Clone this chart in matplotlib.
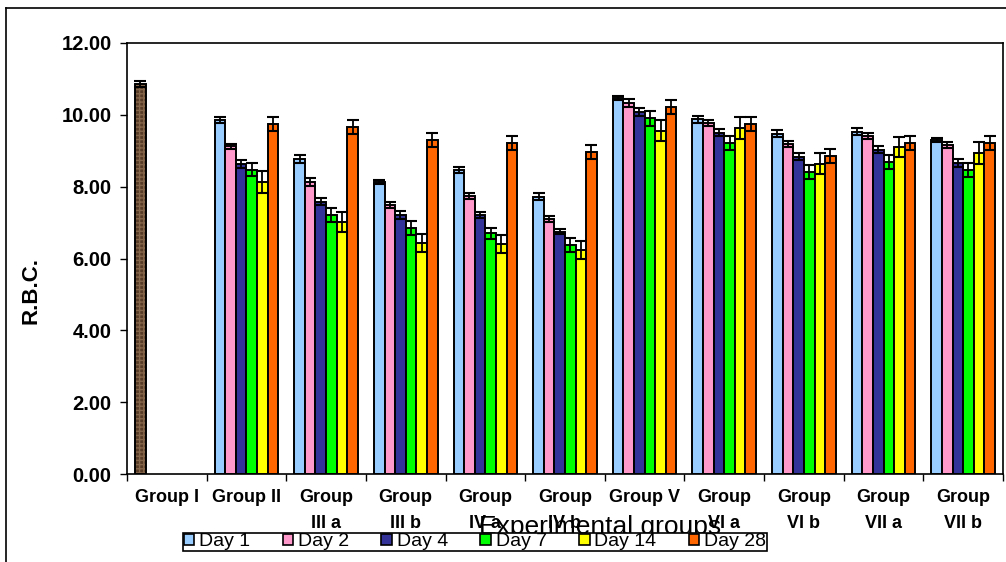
import numpy as np
import matplotlib
matplotlib.use('Agg')
import matplotlib.pyplot as plt
from matplotlib.patches import Patch
from matplotlib.lines import Line2D

plt.rcParams['font.family'] = ['Liberation Sans', 'DejaVu Sans']

groups = ['Group I', 'Group II', 'Group\nIII a', 'Group\nIII b', 'Group\nIV a',
          'Group\nIV b', 'Group V', 'Group\nVI a', 'Group\nVI b', 'Group\nVII a',
          'Group\nVII b']
days = ['Day 1', 'Day 2', 'Day 4', 'Day 7', 'Day 14', 'Day 28']
colors = ['#99CCFF', '#FF99CC', '#333399', '#00FF00', '#FFFF00', '#FF6600']

# control group (single bar)
control_val = 10.85
control_err = 0.08

# treated groups II .. VII b, one list per day
day1  = [9.86, 8.77, 8.13, 8.47, 7.72, 10.47, 9.88, 9.47, 9.53, 9.30]
day2  = [9.12, 8.13, 7.49, 7.73, 7.10, 10.33, 9.78, 9.19, 9.42, 9.16]
day4  = [8.63, 7.58, 7.21, 7.21, 6.75, 10.08, 9.50, 8.83, 9.03, 8.66]
day7  = [8.47, 7.21, 6.85, 6.70, 6.38, 9.90, 9.22, 8.41, 8.69, 8.47]
day14 = [8.13, 7.02, 6.43, 6.40, 6.24, 9.56, 9.63, 8.64, 9.11, 8.94]
day28 = [9.75, 9.67, 9.30, 9.22, 8.97, 10.22, 9.75, 8.86, 9.22, 9.22]

err1  = [0.08, 0.10, 0.05, 0.08, 0.10, 0.05, 0.10, 0.10, 0.10, 0.06]
err2  = [0.08, 0.10, 0.08, 0.08, 0.07, 0.10, 0.08, 0.08, 0.08, 0.08]
err4  = [0.10, 0.10, 0.10, 0.08, 0.08, 0.10, 0.10, 0.10, 0.10, 0.10]
err7  = [0.18, 0.20, 0.20, 0.15, 0.20, 0.20, 0.20, 0.20, 0.20, 0.20]
err14 = [0.30, 0.28, 0.25, 0.25, 0.25, 0.30, 0.30, 0.30, 0.28, 0.30]
err28 = [0.20, 0.20, 0.20, 0.20, 0.20, 0.20, 0.20, 0.20, 0.20, 0.20]

series = [day1, day2, day4, day7, day14, day28]
errors = [err1, err2, err4, err7, err14, err28]

fig = plt.figure(figsize=(10.06, 5.62), dpi=100)
ax = fig.add_axes([127/1006, 1-474/562, 876/1006, 431/562])

w = 0.133
x = np.arange(len(groups))
xt = x[1:]

# Group I textured brown bar
xc = x[0] - 2.5*w
ax.bar(xc, control_val, w, color='#583c27', hatch='++++', edgecolor='#86664a',
       linewidth=0, zorder=2)
ax.bar(xc, control_val, w, fill=False, edgecolor='black', linewidth=1.4, zorder=3)
ax.errorbar(xc, control_val, yerr=control_err, fmt='none', ecolor='black',
            elinewidth=1.3, capsize=4, capthick=1.5, zorder=4)

for i, (vals, errs, c) in enumerate(zip(series, errors, colors)):
    pos = xt + (i - 2.5)*w
    ax.bar(pos, vals, w, color=c, edgecolor='black', linewidth=1.4, zorder=3)
    ax.errorbar(pos, vals, yerr=errs, fmt='none', ecolor='black',
                elinewidth=1.3, capsize=4, capthick=1.5, zorder=4)

ax.set_xlim(-0.5, len(groups) - 0.5)
ax.set_ylim(0, 12)
ax.set_yticks(np.arange(0, 12.1, 2))
ax.set_yticklabels(['%.2f' % v for v in np.arange(0, 12.1, 2)],
                   fontsize=14.5, fontweight='bold')
ax.set_xticks(x)
ax.set_xticklabels(groups, fontsize=13, fontweight='bold', linespacing=1.7)
ax.set_xticks(np.arange(-0.5, len(groups), 1), minor=True)
ax.tick_params(axis='x', which='major', length=0, pad=11)
ax.tick_params(axis='x', which='minor', length=5, width=1)
ax.tick_params(axis='y', length=5, width=1, pad=6)
for s in ax.spines.values():
    s.set_linewidth(1.2)

fig.text(31/1006, 1-290/562, 'R.B.C.', rotation=90, ha='center', va='center',
         fontsize=16, fontweight='bold')
fig.text(600/1006, 1-527/562, 'Experimental groups', ha='center', va='center',
         fontsize=19)

handles = [Patch(facecolor=c, edgecolor='black', linewidth=1.2) for c in colors]
leg = fig.legend(handles, days, loc='center', bbox_to_anchor=(475/1006, 1-542/562),
                 ncol=6, fontsize=14, frameon=True, fancybox=False,
                 handlelength=0.55, handleheight=0.55, handletextpad=0.25,
                 columnspacing=1.65, borderpad=0.05, borderaxespad=0)
leg.get_frame().set_edgecolor('black')
leg.get_frame().set_linewidth(1.2)
leg.get_frame().set_alpha(1)

# outer chart frame (left and top edges visible)
fig.add_artist(Line2D([6/1006, 6/1006], [0, 1-8/562], color='black', lw=1.2,
                      transform=fig.transFigure))
fig.add_artist(Line2D([6/1006, 1], [1-8/562, 1-8/562], color='black', lw=1.2,
                      transform=fig.transFigure))

fig.savefig('out.png', dpi=100)
